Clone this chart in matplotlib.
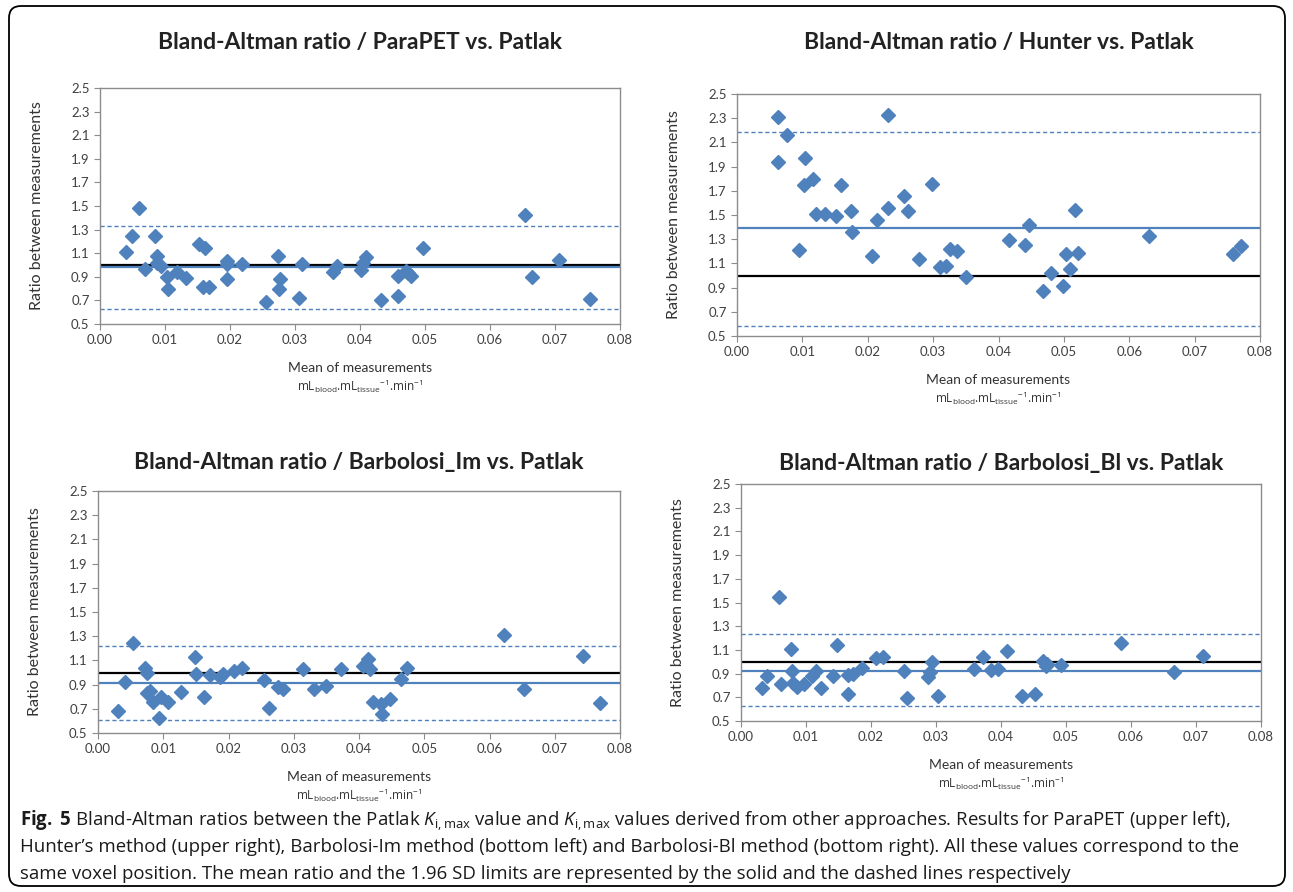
import matplotlib
matplotlib.use("Agg")
import matplotlib.pyplot as plt
from matplotlib.patches import FancyBboxPatch
from matplotlib.transforms import IdentityTransform

# --------------------------------------------------------------------------- #
# Data
# --------------------------------------------------------------------------- #
parapet_x = [0.0040, 0.0049, 0.0060, 0.0069, 0.0084, 0.0087, 0.0088, 0.0094, 0.0103, 0.0105,
             0.0118, 0.0132, 0.0153, 0.0162, 0.0159, 0.0167, 0.0195, 0.0196, 0.0195, 0.0219,
             0.0255, 0.0274, 0.0277, 0.0275, 0.0306, 0.0311, 0.0359, 0.0364, 0.0401, 0.0404,
             0.0409, 0.0432, 0.0458, 0.0458, 0.0470, 0.0474, 0.0478, 0.0497, 0.0654, 0.0665,
             0.0706, 0.0754]
parapet_y = [1.11, 1.25, 1.48, 0.97, 1.25, 1.08, 1.02, 0.99, 0.90, 0.80,
             0.94, 0.89, 1.18, 1.14, 0.81, 0.81, 1.03, 1.01, 0.88, 1.01,
             0.69, 1.08, 0.88, 0.80, 0.72, 1.01, 0.94, 0.99, 0.96, 1.02,
             1.07, 0.70, 0.91, 0.74, 0.95, 0.93, 0.91, 1.14, 1.42, 0.90,
             1.04, 0.71]
parapet_lines = [0.98, 1.33, 0.63]   # mean, upper, lower

hunter_x = [0.0063, 0.0063, 0.0077, 0.0095, 0.0104, 0.0103, 0.0117, 0.0121, 0.0135, 0.0151,
            0.0159, 0.0175, 0.0176, 0.0206, 0.0214, 0.0231, 0.0231, 0.0255, 0.0261, 0.0279,
            0.0299, 0.0311, 0.0320, 0.0326, 0.0336, 0.0350, 0.0416, 0.0441, 0.0446, 0.0468,
            0.0481, 0.0499, 0.0503, 0.0509, 0.0517, 0.0521, 0.0630, 0.0759, 0.0771]
hunter_y = [2.31, 1.94, 2.16, 1.21, 1.97, 1.75, 1.80, 1.51, 1.51, 1.49,
            1.75, 1.53, 1.36, 1.16, 1.46, 2.33, 1.56, 1.66, 1.53, 1.14,
            1.76, 1.07, 1.08, 1.22, 1.20, 0.99, 1.29, 1.25, 1.42, 0.87,
            1.02, 0.91, 1.18, 1.05, 1.54, 1.19, 1.33, 1.18, 1.24]
hunter_lines = [1.39, 2.19, 0.58]

barb_im_x = [0.0031, 0.0042, 0.0054, 0.0072, 0.0075, 0.0075, 0.0079, 0.0085, 0.0093, 0.0096,
             0.0107, 0.0127, 0.0148, 0.0150, 0.0163, 0.0171, 0.0187, 0.0192, 0.0208, 0.0221,
             0.0255, 0.0262, 0.0276, 0.0283, 0.0314, 0.0331, 0.0349, 0.0372, 0.0406, 0.0411,
             0.0414, 0.0417, 0.0421, 0.0433, 0.0435, 0.0448, 0.0465, 0.0473, 0.0622, 0.0653,
             0.0744, 0.0769]
barb_im_y = [0.68, 0.92, 1.24, 1.04, 1.00, 0.83, 0.85, 0.76, 0.62, 0.80,
             0.76, 0.84, 1.13, 0.99, 0.80, 0.98, 0.96, 0.99, 1.01, 1.04,
             0.94, 0.71, 0.88, 0.86, 1.03, 0.86, 0.89, 1.03, 1.05, 1.06,
             1.11, 1.03, 0.76, 0.74, 0.66, 0.78, 0.95, 1.04, 1.31, 0.86,
             1.14, 0.75]
barb_im_lines = [0.91, 1.22, 0.61]

barb_bl_x = [0.0033, 0.0040, 0.0059, 0.0062, 0.0077, 0.0079, 0.0080, 0.0086, 0.0097, 0.0109,
             0.0116, 0.0123, 0.0141, 0.0148, 0.0165, 0.0165, 0.0173, 0.0186, 0.0208, 0.0219,
             0.0251, 0.0256, 0.0287, 0.0290, 0.0294, 0.0303, 0.0359, 0.0372, 0.0384, 0.0396,
             0.0409, 0.0432, 0.0453, 0.0465, 0.0469, 0.0470, 0.0493, 0.0584, 0.0666, 0.0710]
barb_bl_y = [0.78, 0.88, 1.55, 0.81, 1.11, 0.92, 0.82, 0.79, 0.81, 0.88,
             0.92, 0.78, 0.88, 1.14, 0.89, 0.73, 0.90, 0.95, 1.03, 1.04,
             0.92, 0.69, 0.87, 0.91, 1.00, 0.71, 0.94, 1.04, 0.93, 0.94,
             1.09, 0.71, 0.73, 1.01, 0.96, 0.98, 0.97, 1.16, 0.91, 1.05]
barb_bl_lines = [0.92, 1.23, 0.63]

titles = ["Bland-Altman ratio / ParaPET vs. Patlak",
          "Bland-Altman ratio / Hunter vs. Patlak",
          "Bland-Altman ratio / Barbolosi_Im vs. Patlak",
          "Bland-Altman ratio / Barbolosi_Bl vs. Patlak"]

x_ticks = [0.00, 0.01, 0.02, 0.03, 0.04, 0.05, 0.06, 0.07, 0.08]
y_ticks = [0.5, 0.7, 0.9, 1.1, 1.3, 1.5, 1.7, 1.9, 2.1, 2.3, 2.5]

caption = [
    r"$\mathbf{Fig.}$ $\mathbf{5}$ Bland-Altman ratios between the Patlak $K_{\mathrm{i,max}}$ value and "
    r"$K_{\mathrm{i,max}}$ values derived from other approaches. Results for ParaPET (upper left),",
    "Hunter\u2019s method (upper right), Barbolosi-Im method (bottom left) and Barbolosi-Bl method "
    "(bottom right). All these values correspond to the",
    "same voxel position. The mean ratio and the 1.96 SD limits are represented by the solid "
    "and the dashed lines respectively",
]

# --------------------------------------------------------------------------- #
# Layout (pixel boxes of each panel: left, top, right, bottom)
# --------------------------------------------------------------------------- #
W, H = 1293, 892
BLUE = "#4F81BD"
panels = [
    (parapet_x, parapet_y, parapet_lines, (100, 88, 620, 324), 42),
    (hunter_x, hunter_y, hunter_lines, (737, 94, 1260, 336), 42),
    (barb_im_x, barb_im_y, barb_im_lines, (98, 491, 620, 733), 462),
    (barb_bl_x, barb_bl_y, barb_bl_lines, (741, 484, 1261, 721), 464),
]

plt.rcParams["font.family"] = ["Lato", "DejaVu Sans"]
plt.rcParams["mathtext.fontset"] = "custom"
plt.rcParams["mathtext.rm"] = "Open Sans"
plt.rcParams["mathtext.it"] = "Open Sans:italic"
plt.rcParams["mathtext.bf"] = "Open Sans:bold"

fig = plt.figure(figsize=(W / 100, H / 100), dpi=100)

for (xs, ys, lines, box, title_y), title in zip(panels, titles):
    l, t, r, b = box
    ax = fig.add_axes([l / W, 1 - b / H, (r - l) / W, (b - t) / H])
    mean, upper, lower = lines
    ax.axhline(1.0, color="black", lw=1.6, zorder=2)
    ax.axhline(mean, color=BLUE, lw=1.6, zorder=2)
    for v in (upper, lower):
        ax.axhline(v, color=BLUE, lw=1.0, ls=(0, (3, 2)), zorder=2)
    ax.plot(xs, ys, "D", color=BLUE, ms=7, mec=BLUE, zorder=3, clip_on=False)
    ax.set_xlim(0, 0.08)
    ax.set_ylim(0.5, 2.5)
    ax.set_xticks(x_ticks)
    ax.set_xticklabels([f"{v:.2f}" for v in x_ticks])
    ax.set_yticks(y_ticks)
    ax.set_yticklabels([f"{v:.1f}" for v in y_ticks])
    ax.tick_params(labelsize=9.5, colors="#8c8c8c", labelcolor="#404040", length=4, width=0.8)
    for s in ax.spines.values():
        s.set_color("#8c8c8c")
        s.set_linewidth(1.0)

    cx = (l + r) / 2
    fig.text(cx / W, 1 - title_y / H, title, ha="center", va="center",
             fontsize=16.5, fontweight="bold", color="#222222")
    fig.text((l - 63) / W, 1 - (t + b) / 2 / H, "Ratio between measurements",
             rotation=90, ha="center", va="center", fontsize=11.5, color="#333333")
    fig.text(cx / W, 1 - (b + 44) / H, "Mean of measurements",
             ha="center", va="center", fontsize=10, color="#333333")
    fig.text(cx / W, 1 - (b + 62) / H,
             r"mL$_{\mathrm{blood}}$.mL$_{\mathrm{tissue}}$$^{\mathrm{-1}}$.min$^{\mathrm{-1}}$",
             ha="center", va="center", fontsize=8.5, color="#333333",
             family=["Open Sans"])

for i, line in enumerate(caption):
    fig.text(20 / W, 1 - (820 + 27 * i) / H, line, ha="left", va="center",
             fontsize=13.4, color="#1a1a1a", family=["Open Sans", "DejaVu Sans"])

frame = FancyBboxPatch((9, 6), 1276, 880, boxstyle="round,pad=0,rounding_size=12",
                       transform=IdentityTransform(), fill=False, ec="black", lw=1.3)
fig.patches.append(frame)

fig.savefig("out.png", dpi=100)
